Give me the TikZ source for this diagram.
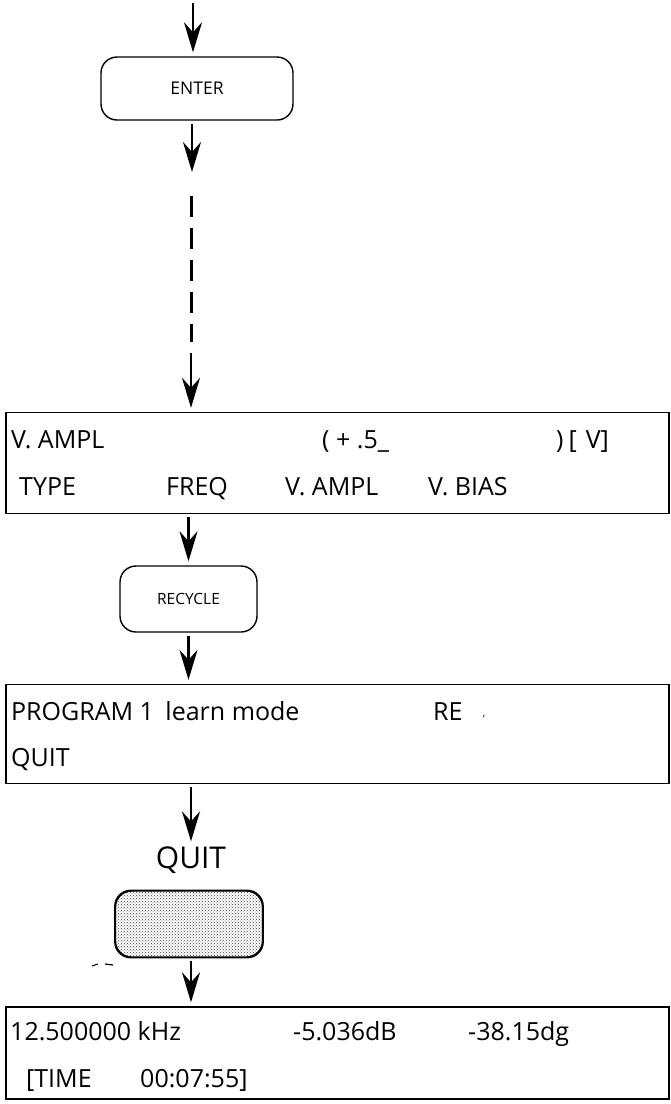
\documentclass[tikz,border=0pt]{standalone}
\usepackage{fontspec}
\setmainfont{Open Sans}
\usetikzlibrary{arrows.meta,patterns}
\tikzset{
  arr/.style={line width=2.6pt, -{Stealth[length=30pt,width=18pt,inset=10pt]}, shorten <=3pt, shorten >=4pt},
  rbox/.style={draw, line width=1.4pt, rounded corners=16pt, inner sep=0pt},
  sbox/.style={draw, line width=1.4pt, inner sep=0pt},
  txt/.style={anchor=base west, inner sep=0pt, font=\fontsize{25}{29}\selectfont},
  dashline/.style={line width=3pt, dash pattern=on 21pt off 11pt}
}
\begin{document}
\begin{tikzpicture}[x=1pt,y=-1pt]
\useasboundingbox (0,0) rectangle (671,1104);
% top
\coordinate (top) at (193,0);
\node[rbox, minimum width=192pt, minimum height=63pt, font=\fontsize{17.5}{20}\selectfont] (enter) at (197,88.5) {ENTER};
\draw[arr] (top) -- (top |- enter.north);
\coordinate (a1) at (192,176);
\draw[arr] (enter.south -| a1) -- (a1);
\coordinate (ds) at (191,196);
\coordinate (de) at (191,342);
\draw[dashline] (ds) -- (de);
% V. AMPL box
\node[sbox, minimum width=663pt, minimum height=101pt] (vampl) at (337.5,463) {};
\coordinate (a2) at (191,350);
\draw[arr] (a2) -- (a2 |- vampl.north);
\node[txt] (v1) at (11,448) {V. AMPL};
\node[txt] (v2) at (322,448) {( + .5\_};
\node[txt] (v3) at (556,448) {)\hspace{5pt}[\hspace{9pt}V]};
\node[txt] (v4) at (19,495) {TYPE};
\node[txt] (v5) at (166,495) {FREQ};
\node[txt] (v6) at (285,495) {V. AMPL};
\node[txt] (v7) at (428,495) {V. BIAS};
% RECYCLE
\node[rbox, minimum width=137pt, minimum height=66pt, font=\fontsize{15.5}{18}\selectfont] (recycle) at (188.5,599) {RECYCLE};
\draw[arr] (vampl.south -| recycle.north) -- (recycle.north);
% PROGRAM box
\node[sbox, minimum width=663pt, minimum height=99pt] (prog) at (337.5,734) {};
\draw[arr] (recycle.south) -- (recycle.south |- prog.north);
\node[txt] (p1) at (11,720) {PROGRAM 1\hspace{5pt} learn mode};
\node[txt] (p2) at (433,720) {RE};
\node[inner sep=0pt, font=\fontsize{10}{12}\selectfont] (p3) at (484,717) {,};
\node[txt] (p4) at (11,766) {QUIT};
% QUIT label
\node[inner sep=1pt, font=\fontsize{30}{34}\selectfont] (quitlbl) at (191,860) {QUIT};
\draw[arr] (prog.south -| quitlbl) -- (quitlbl.north);
% gray key
\node[rbox, fill=black!18, pattern=crosshatch dots, pattern color=black!75, minimum width=147pt, minimum height=66pt] (key) at (189,924) {};
\draw[line width=1.4pt, rounded corners=16pt] (key.north west) rectangle (key.south east);
% small marks
\coordinate (m1) at (92,966);
\coordinate (m2) at (98,964);
\coordinate (m3) at (105,964);
\coordinate (m4) at (113,965);
\draw[line width=1pt] (m1) -- (m2);
\draw[line width=1.2pt] (m3) -- (m4);
% bottom box
\node[sbox, minimum width=663pt, minimum height=92pt] (res) at (337.5,1053) {};
\draw[arr] (key.south -| quitlbl) -- (quitlbl |- res.north);
\node[txt] (r1) at (10,1040) {12.500000 kHz};
\node[txt] (r2) at (293,1040) {-5.036dB};
\node[txt] (r3) at (468,1040) {-38.15dg};
\node[txt] (r4) at (26,1087) {[TIME};
\node[txt] (r5) at (140,1087) {00:07:55]};
\end{tikzpicture}
\end{document}
